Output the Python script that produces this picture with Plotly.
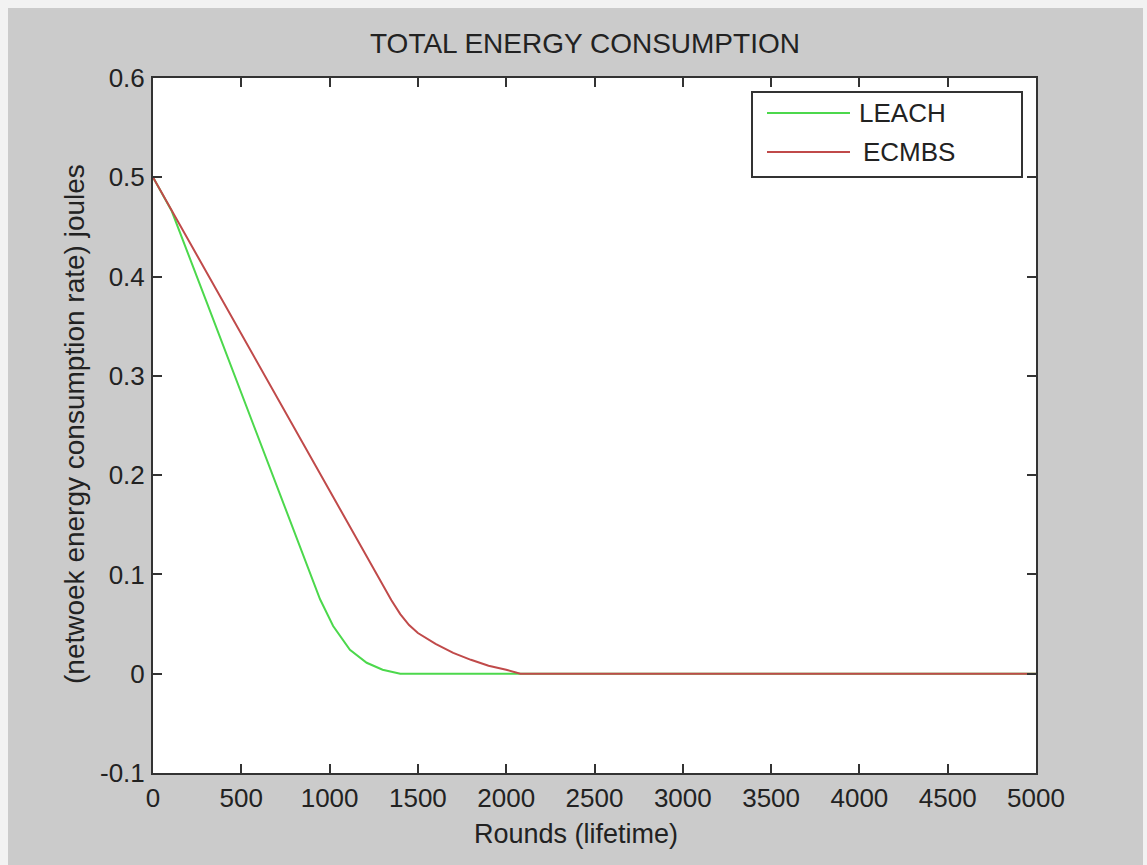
import plotly.graph_objects as go

# ---------------- data ----------------
leach_rounds = [0, 106, 300, 560, 832, 946, 1020, 1115, 1210, 1300, 1400, 2100, 5000]
leach_energy = [0.5, 0.466, 0.376, 0.255, 0.128, 0.075, 0.048, 0.024, 0.011, 0.004, 0.0, 0.0, 0.0]

ecmbs_rounds = [0, 200, 400, 600, 800, 1000, 1200, 1300, 1350, 1400, 1450, 1500, 1600, 1700, 1800, 1900, 2000, 2080, 5000]
ecmbs_energy = [0.5, 0.437, 0.374, 0.311, 0.248, 0.185, 0.122, 0.090, 0.074, 0.060, 0.049, 0.041, 0.030, 0.021, 0.014, 0.008, 0.004, 0.0, 0.0]

x_ticks = [0, 500, 1000, 1500, 2000, 2500, 3000, 3500, 4000, 4500, 5000]
y_ticks = [-0.1, 0, 0.1, 0.2, 0.3, 0.4, 0.5, 0.6]
y_tick_labels = ["-0.1", "0", "0.1", "0.2", "0.3", "0.4", "0.5", "0.6"]

series_names = ["LEACH", "ECMBS"]
series_colors = ["#4cd84c", "#c04a4a"]

title_text = "TOTAL ENERGY CONSUMPTION"
x_title = "Rounds (lifetime)"
y_title = "(netwoek energy consumption rate) joules"

# ---------------- layout geometry (pixels) ----------------
W, H = 1147, 865
L, R, T, B = 153, 1036, 78, 773
PW, PH = R - L, B - T


def px(x):
    return (x - L) / PW


def py(y):
    return (B - y) / PH


FONT = "Liberation Sans, Arial, sans-serif"
TXT = "#222222"
BG = "#cbcbcb"
AX = "#333333"

fig = go.Figure()
fig.add_trace(go.Scatter(x=leach_rounds, y=leach_energy, mode="lines",
                         line=dict(color=series_colors[0], width=2),
                         name=series_names[0], showlegend=False))
fig.add_trace(go.Scatter(x=ecmbs_rounds, y=ecmbs_energy, mode="lines",
                         line=dict(color=series_colors[1], width=2),
                         name=series_names[1], showlegend=False))

axis_common = dict(showline=True, mirror="ticks", linecolor=AX, linewidth=2,
                   ticks="inside", ticklen=9, tickwidth=1.5, tickcolor=AX,
                   showgrid=False, zeroline=False,
                   tickfont=dict(family=FONT, size=26, color=TXT))

fig.update_xaxes(range=[0, 5000], tickvals=x_ticks, ticklabelstandoff=1, **axis_common)
fig.update_yaxes(range=[-0.1, 0.6], tickvals=y_ticks, ticktext=y_tick_labels,
                 ticklabelstandoff=1, **axis_common)

shapes = []
# window edge strips
shapes.append(dict(type="rect", xref="paper", yref="paper", x0=px(0), x1=px(W), y0=py(0), y1=py(8),
                   fillcolor="#f2f2f2", line=dict(width=0), layer="below"))
shapes.append(dict(type="rect", xref="paper", yref="paper", x0=px(0), x1=px(8), y0=py(0), y1=py(H),
                   fillcolor="#f2f2f2", line=dict(width=0), layer="below"))
shapes.append(dict(type="rect", xref="paper", yref="paper", x0=px(1143), x1=px(W), y0=py(0), y1=py(H),
                   fillcolor="#f2f2f2", line=dict(width=0), layer="below"))

# legend box
shapes.append(dict(type="rect", xref="paper", yref="paper", x0=px(752), x1=px(1022), y0=py(92), y1=py(177),
                   fillcolor="white", line=dict(color=AX, width=2)))
legend_y = [113, 152]
legend_text_x = [857, 861]
annotations = []
for i in range(2):
    shapes.append(dict(type="line", xref="paper", yref="paper", x0=px(767), x1=px(850),
                       y0=py(legend_y[i]), y1=py(legend_y[i]),
                       line=dict(color=series_colors[i], width=2)))
    annotations.append(dict(text=series_names[i], xref="paper", yref="paper",
                            x=px(legend_text_x[i]), y=py(legend_y[i]), xanchor="left", yanchor="middle",
                            showarrow=False, font=dict(family=FONT, size=26, color=TXT)))

annotations.append(dict(text=title_text, xref="paper", yref="paper", x=px(368), y=py(44),
                        xanchor="left", yanchor="middle", showarrow=False,
                        font=dict(family=FONT, size=28, color=TXT)))
annotations.append(dict(text=x_title, xref="paper", yref="paper", x=px(472), y=py(834),
                        xanchor="left", yanchor="middle", showarrow=False,
                        font=dict(family=FONT, size=27, color=TXT)))
annotations.append(dict(text=y_title, xref="paper", yref="paper", x=px(74), y=py(424),
                        xanchor="center", yanchor="middle", showarrow=False, textangle=-90,
                        font=dict(family=FONT, size=28, color=TXT)))

fig.update_layout(width=W, height=H,
                  margin=dict(l=L, r=W - R, t=T, b=H - B, pad=0),
                  paper_bgcolor=BG, plot_bgcolor="white",
                  shapes=shapes, annotations=annotations, showlegend=False)

fig.write_html("out.html")
